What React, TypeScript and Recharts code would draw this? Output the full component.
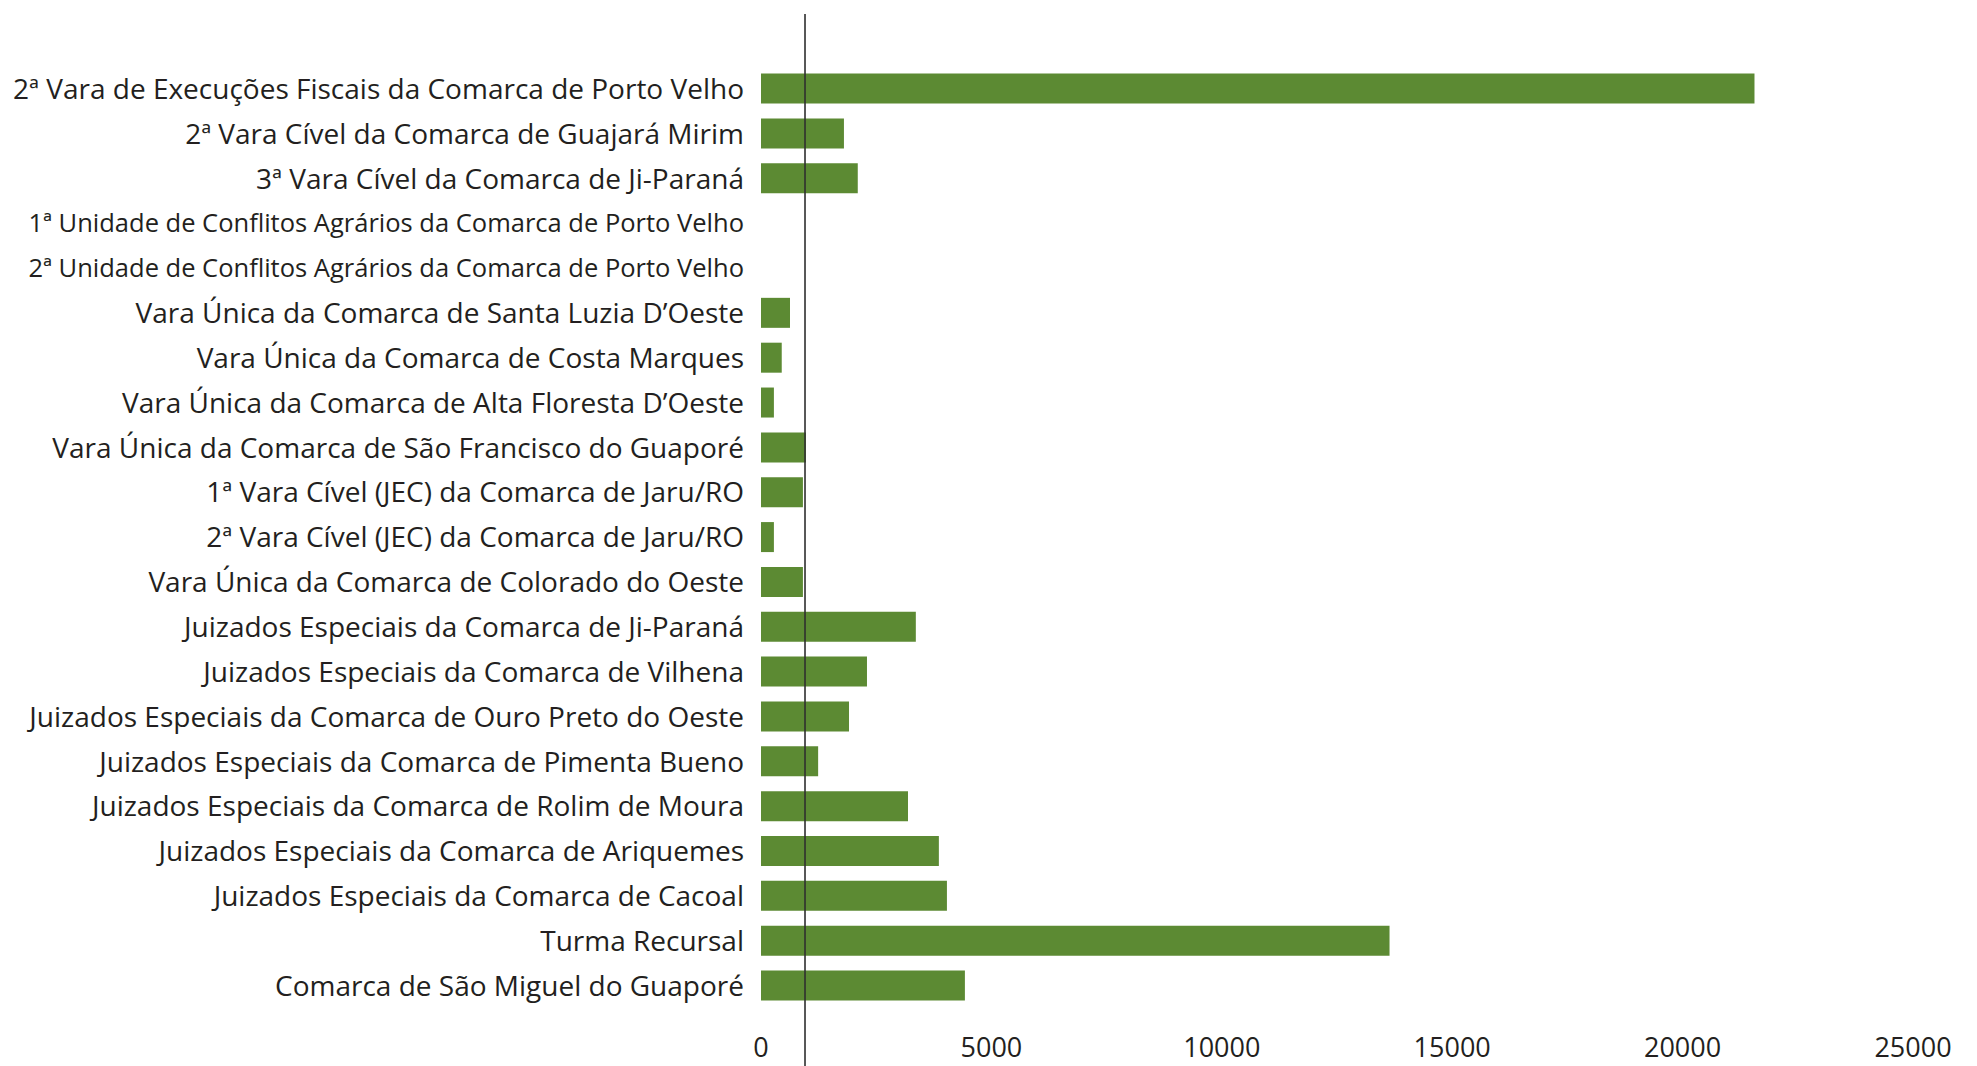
import { BarChart, Bar, XAxis, YAxis, ReferenceLine } from 'recharts'

const units = [
  '2ª Vara de Execuções Fiscais da Comarca de Porto Velho',
  '2ª Vara Cível da Comarca de Guajará Mirim',
  '3ª Vara Cível da Comarca de Ji-Paraná',
  '1ª Unidade de Conflitos Agrários da Comarca de Porto Velho',
  '2ª Unidade de Conflitos Agrários da Comarca de Porto Velho',
  'Vara Única da Comarca de Santa Luzia D’Oeste',
  'Vara Única da Comarca de Costa Marques',
  'Vara Única da Comarca de Alta Floresta D’Oeste',
  'Vara Única da Comarca de São Francisco do Guaporé',
  '1ª Vara Cível (JEC) da Comarca de Jaru/RO',
  '2ª Vara Cível (JEC) da Comarca de Jaru/RO',
  'Vara Única da Comarca de Colorado do Oeste',
  'Juizados Especiais da Comarca de Ji-Paraná',
  'Juizados Especiais da Comarca de Vilhena',
  'Juizados Especiais da Comarca de Ouro Preto do Oeste',
  'Juizados Especiais da Comarca de Pimenta Bueno',
  'Juizados Especiais da Comarca de Rolim de Moura',
  'Juizados Especiais da Comarca de Ariquemes',
  'Juizados Especiais da Comarca de Cacoal',
  'Turma Recursal',
  'Comarca de São Miguel do Guaporé',
]

const processos = [
  21560, 1800, 2100, 0, 0, 630, 450, 280, 975, 910, 280,
  910, 3360, 2300, 1910, 1240, 3190, 3860, 4035, 13640, 4425,
]

const xTicks = [0, 5000, 10000, 15000, 20000, 25000]
const markerValue = 955

const data = units.map((name, i) => ({ name, processos: processos[i] }))

const textColor = '#231f20'
const barColor = '#5c8a33'
const font = '"Open Sans", sans-serif'

const W = 1977
const H = 1066
const TOP = 14

// the vertical rule runs from the top margin down to the bottom edge
function TallLine(props: any) {
  const { x1, x2 } = props
  return <line x1={x1} y1={TOP} x2={x2} y2={H} stroke="#2f2f2f" strokeWidth={1.6} />
}

// the two longest names are set a bit smaller so they fit
function UnitTick(props: any) {
  const { x, y, payload } = props
  const label = String(payload.value)
  const size = label.length > 55 ? 25.5 : 28
  return (
    <text x={x} y={y} dy="0.35em" textAnchor="end" fontSize={size} fill={textColor} fontFamily={font}>
      {label}
    </text>
  )
}

export default function App() {
  return (
    <div style={{ fontFamily: font }}>
      <style>{'body{margin:0}'}</style>
      <BarChart
        width={W}
        height={H}
        data={data}
        layout="vertical"
        margin={{ top: TOP, right: 64, left: 0, bottom: 0 }}
        barSize={30}
      >
        <XAxis
          type="number"
          domain={[0, 25000]}
          ticks={xTicks}
          interval={0}
          height={36}
          axisLine={false}
          tickLine={false}
          tickMargin={2}
          tick={{ fontSize: 27, fill: textColor, fontFamily: font }}
        />
        <YAxis
          type="category"
          dataKey="name"
          width={761}
          interval={0}
          padding={{ top: 52.6, bottom: 21.6 }}
          axisLine={false}
          tickLine={false}
          tickMargin={11}
          tick={<UnitTick />}
        />
        <ReferenceLine x={markerValue} shape={TallLine} />
        <Bar dataKey="processos" fill={barColor} isAnimationActive={false} />
      </BarChart>
    </div>
  )
}
